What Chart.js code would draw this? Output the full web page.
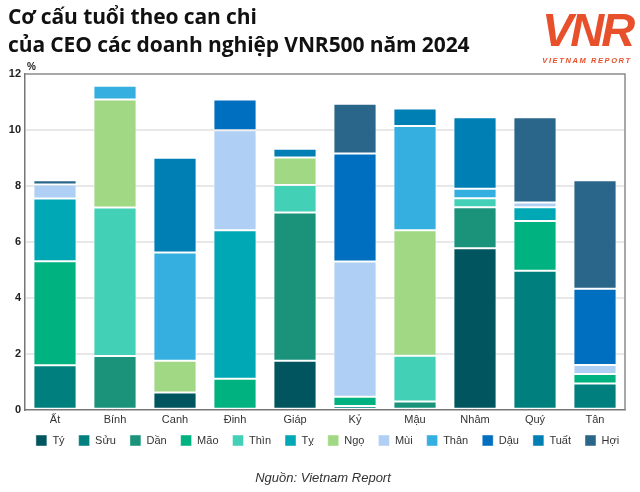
<!DOCTYPE html>
<html>
<head>
<meta charset="utf-8">
<script src="https://cdn.jsdelivr.net/npm/chart.js@4.4.1/dist/chart.umd.min.js"></script>
<style>
  html, body { margin: 0; padding: 0; background: #fff; }
  body { width: 640px; height: 492px; position: relative; overflow: hidden; font-family: "Open Sans", sans-serif; }
  #wrap { position: absolute; left: 0; top: 0; width: 640px; height: 492px; }
  .tieude { position: absolute; left: 8px; top: 2px; font-size: 21px; font-weight: 700; line-height: 28px; color: #111; letter-spacing: -0.1px; }
  .logo { position: absolute; left: 539px; top: 5px; width: 96px; text-align: center; color: #e8502c; }
  .logo .vnr { font-family: "Liberation Sans", sans-serif; font-size: 47px; font-style: italic; font-weight: 700; letter-spacing: -3px; line-height: 50px; }
  .logo .vr { font-family: "Liberation Sans", sans-serif; font-size: 7.5px; font-weight: 700; font-style: italic; letter-spacing: 1.6px; margin-top: 1px; }
  .phantram { position: absolute; left: 27px; top: 61px; font-family: "Liberation Sans Narrow", "Liberation Sans", sans-serif; font-size: 10px; font-weight: 700; color: #222; }
  .nguon { position: absolute; left: 0; width: 646px; top: 470px; text-align: center; font-family: "Liberation Sans", sans-serif; font-style: italic; font-size: 13px; color: #333; }
</style>
</head>
<body>
<div id="wrap"><canvas id="bieudo" width="640" height="492"></canvas></div>
<div class="tieude">Cơ cấu tuổi theo can chi<br>của CEO các doanh nghiệp VNR500 năm 2024</div>
<div class="logo"><div class="vnr">VNR</div><div class="vr">VIETNAM REPORT</div></div>
<div class="phantram">%</div>
<div class="nguon">Nguồn: Vietnam Report</div>
<script>
const canChi = ['Ất', 'Bính', 'Canh', 'Đinh', 'Giáp', 'Kỷ', 'Mậu', 'Nhâm', 'Quý', 'Tân'];
const yTicks = [0, 2, 4, 6, 8, 10, 12];

const ty    = [0, 0, 0.62, 0, 1.75, 0, 0, 5.77, 0, 0];
const suu   = [1.59, 0, 0, 0, 0, 0.14, 0, 0, 4.97, 0.94];
const dan   = [0, 1.92, 0, 0, 5.30, 0, 0.30, 1.47, 0, 0];
const mao   = [3.72, 0, 0, 1.11, 0, 0.33, 0, 0, 1.78, 0.34];
const thin  = [0, 5.31, 0, 0, 0.98, 0, 1.63, 0.32, 0, 0];
const ty2   = [2.24, 0, 0, 5.31, 0, 0, 0, 0, 0.49, 0];
const ngo   = [0, 3.86, 1.13, 0, 0.99, 0, 4.49, 0, 0, 0];
const mui   = [0.50, 0, 0, 3.57, 0, 4.83, 0, 0, 0.17, 0.32];
const than  = [0, 0.49, 3.87, 0, 0, 0, 3.72, 0.34, 0, 0];
const dau   = [0, 0, 0, 1.10, 0, 3.86, 0, 0, 0, 2.73];
const tuat  = [0, 0, 3.39, 0, 0.31, 0, 0.63, 2.55, 0, 0];
const hoi   = [0.15, 0, 0, 0, 0, 1.78, 0, 0, 3.04, 3.87];

const tenChi = ['Tý', 'Sửu', 'Dần', 'Mão', 'Thìn', 'Tỵ', 'Ngọ', 'Mùi', 'Thân', 'Dậu', 'Tuất', 'Hợi'];
const giaTri = [ty, suu, dan, mao, thin, ty2, ngo, mui, than, dau, tuat, hoi];
const mauChi = ['#00555f', '#007f7f', '#1a937a', '#00b27f', '#42d0b6', '#00a7b5',
                '#a1d883', '#b0cff5', '#35afdf', '#006fbf', '#007fb5', '#2a6689'];

const datasets = [];
for (let i = 0; i < tenChi.length; i++) {
    datasets.push({
        label: tenChi[i],
        data: giaTri[i],
        backgroundColor: mauChi[i],
        borderColor: 'rgba(255,255,255,0.45)',
        borderWidth: 1,
        borderSkipped: false,
        barPercentage: 0.72,
        categoryPercentage: 1
    });
}

// khung xam quanh vung ve
const khung = {
    id: 'khung',
    afterDatasetsDraw(chart) {
        const a = chart.chartArea;
        const ctx = chart.ctx;
        ctx.save();
        ctx.strokeStyle = '#8c8c8c';
        ctx.lineWidth = 1.5;
        ctx.beginPath();
        ctx.moveTo(a.left, a.top);
        ctx.lineTo(a.right, a.top);
        ctx.lineTo(a.right, a.bottom);
        ctx.stroke();
        ctx.restore();
    }
};

// dich chu giai cho giong ban goc
const dichChuGiai = {
    id: 'dichChuGiai',
    afterLayout(chart) {
        const lg = chart.legend;
        lg.left += 15; lg.right += 15;
        lg.top -= 10; lg.bottom -= 10;
    }
};

new Chart(document.getElementById('bieudo'), {
    type: 'bar',
    data: { labels: canChi, datasets: datasets },
    plugins: [khung, dichChuGiai],
    options: {
        responsive: false,
        animation: false,
        layout: { padding: { top: 74, right: 15, left: 0, bottom: 26 } },
        plugins: {
            tooltip: { enabled: false },
            legend: {
                position: 'bottom',
                labels: {
                    boxWidth: 11,
                    boxHeight: 11,
                    padding: 14,
                    color: '#333',
                    font: { family: "'Liberation Sans', sans-serif", size: 11 }
                }
            }
        },
        scales: {
            x: {
                stacked: true,
                grid: { display: false, drawTicks: false },
                border: { color: '#777', width: 1.5 },
                ticks: { color: '#333', padding: 4, font: { family: "'Liberation Sans', sans-serif", size: 11 } }
            },
            y: {
                stacked: true,
                min: 0,
                max: 12,
                afterFit(scale) { scale.width = 25; },
                afterBuildTicks(scale) { scale.ticks = yTicks.map(v => ({ value: v })); },
                grid: {
                    color: (c) => (c.tick && (c.tick.value === 0 || c.tick.value === 12)) ? 'rgba(0,0,0,0)' : '#e8e8e8',
                    lineWidth: 2,
                    drawTicks: false
                },
                border: { color: '#777', width: 1.5 },
                ticks: {
                    color: '#222',
                    padding: 4,
                    font: { family: "'Liberation Sans Narrow', 'Liberation Sans', sans-serif", size: 11, weight: 'bold' }
                }
            }
        }
    }
});
</script>
</body>
</html>
